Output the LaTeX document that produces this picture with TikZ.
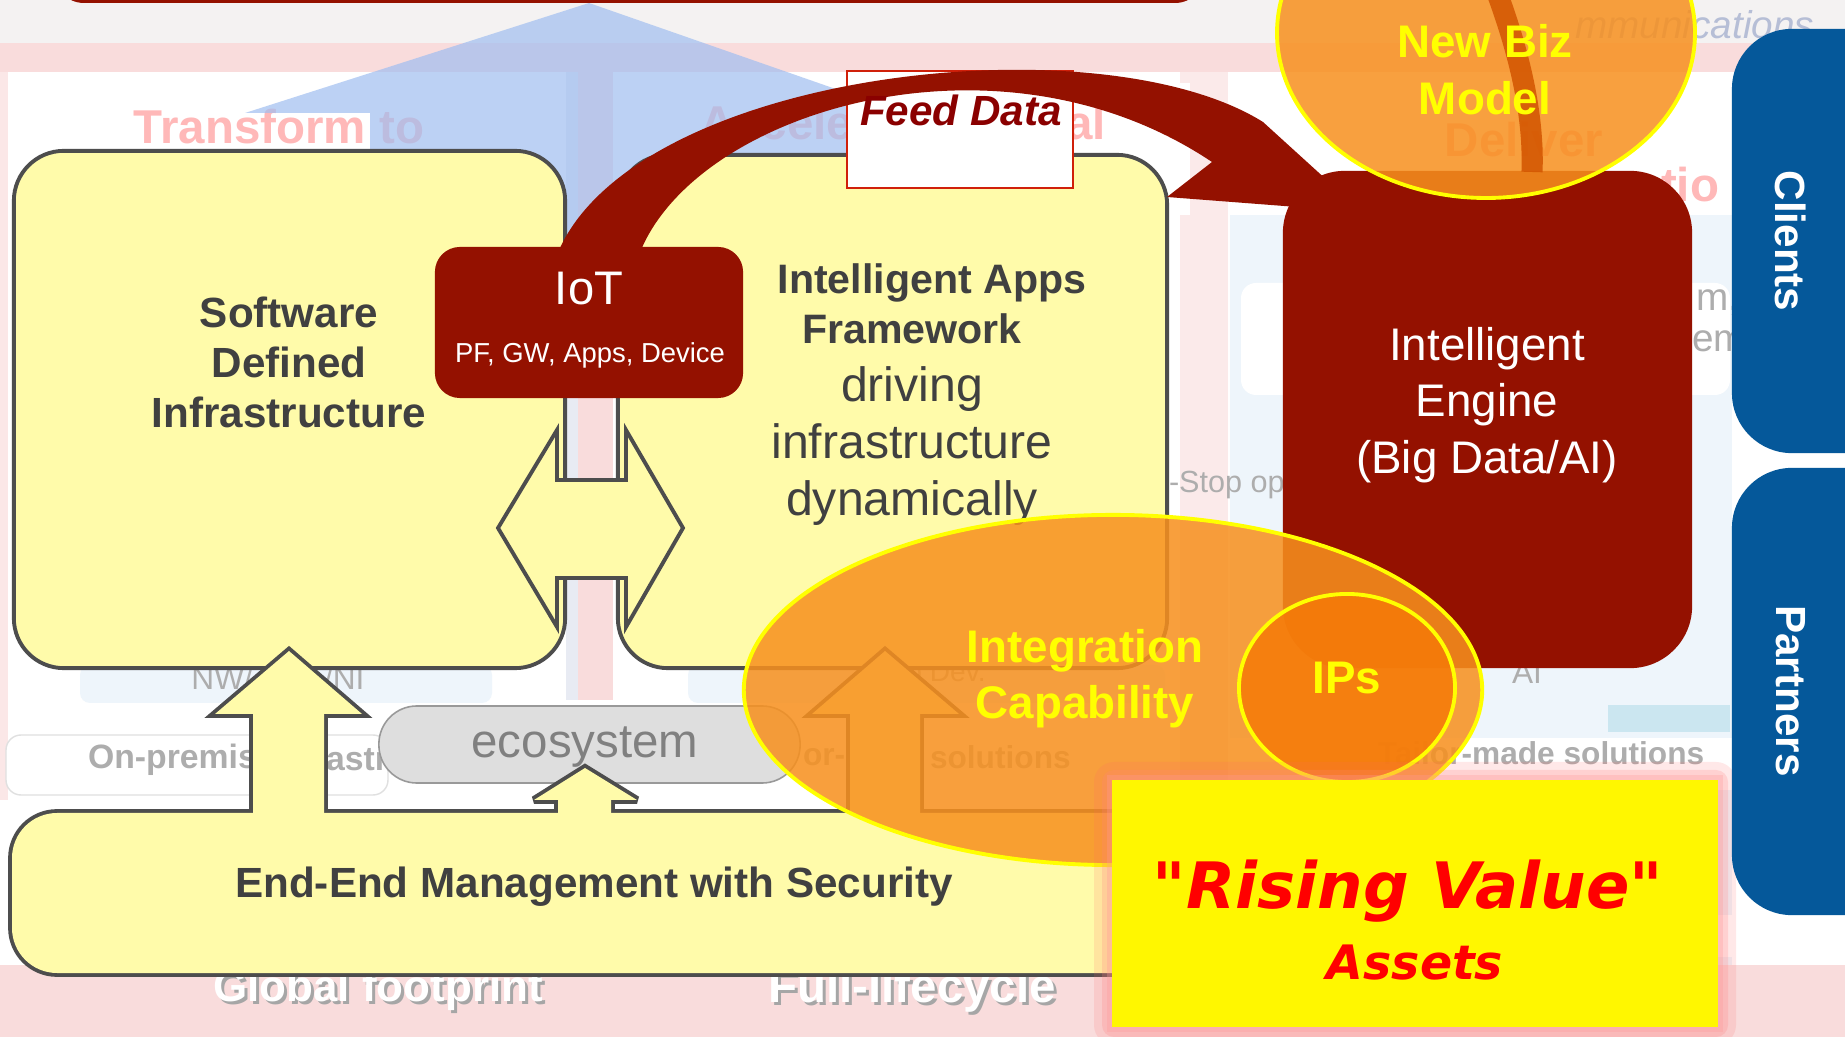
\documentclass[tikz,border=0pt]{standalone}
\usepackage{fontspec}
\setmainfont{Liberation Sans}
\newfontfamily\djv{DejaVu Sans}
\usetikzlibrary{shapes.geometric}
\definecolor{ylw}{HTML}{FFFBAA}
\definecolor{edge}{HTML}{4D4D4D}
\definecolor{txt}{HTML}{404040}
\definecolor{dred}{HTML}{941100}
\definecolor{fdred}{HTML}{8A0000}
\definecolor{orng}{HTML}{F7901E}
\definecolor{orng2}{HTML}{F57A08}
\definecolor{yel}{HTML}{FFFF00}
\definecolor{rvy}{HTML}{FFF700}
\definecolor{rvr}{HTML}{FF0000}
\definecolor{pblue}{HTML}{05589A}
\definecolor{bgpink}{HTML}{F9DCDC}
\definecolor{topgray}{HTML}{F4F2F2}
\definecolor{paleblue}{HTML}{EEF5FB}
\definecolor{lightbar}{HTML}{CBE6F0}
\definecolor{fadepink}{HTML}{FFB8B8}
\definecolor{fadegray}{HTML}{ADADAD}
\definecolor{ecofill}{HTML}{DEDEDE}
\definecolor{ecotxt}{HTML}{808080}
\definecolor{blueov}{HTML}{A0BEF0}
\definecolor{fadeblue}{HTML}{B6BED6}
\definecolor{darkor}{HTML}{D25400}
\definecolor{feedline}{HTML}{D0200A}
\definecolor{gapgray}{HTML}{E8EBF3}
\newcommand{\fsz}[2]{\fontsize{#1}{#2}\selectfont}
\tikzset{
  ybox/.style={draw=edge, line width=1.1pt, fill=ylw, rounded corners=0.5cm},
  rbox/.style={fill=dred},
  fadetxt/.style={text=fadegray, font=\fsz{9pt}{11pt}\bfseries},
  pinktxt/.style={text=fadepink, font=\fsz{13.5pt}{16pt}\bfseries},
  ywtxt/.style={text=yel, font=\fsz{13pt}{16pt}\bfseries, align=center},
  pill/.style={fill=pblue, rounded corners=0.6cm},
  pilltxt/.style={text=white, font=\fsz{12pt}{14pt}\bfseries, rotate=-90},
  oval/.style={ellipse, draw=yel, line width=1.1pt},
  arrowline/.style={draw=edge, line width=2.2pt, line join=miter, miter limit=3},
}
\begin{document}
\begin{tikzpicture}[x=0.01cm,y=-0.01cm,every node/.append style={inner sep=0pt,outer sep=0pt}]
\useasboundingbox (0,0) rectangle (1845,1037);
\clip (0,0) rectangle (1845,1037);
% ---------- background ----------
\fill[white] (0,0) rectangle (1845,1037);
\fill[topgray] (0,0) rectangle (1845,43);
\fill[dred,rounded corners=0.3cm] (54,-60) rectangle (1205,3);
\fill[bgpink] (0,43) rectangle (1845,72);
\fill[bgpink] (0,965) rectangle (1845,1037);
\fill[bgpink!70] (0,72) rectangle (8,800);
\fill[gapgray] (566,72) rectangle (578,700);
\fill[bgpink] (578,72) rectangle (613,700);
\fill[bgpink!60] (1180,72) rectangle (1228,965);
\fill[paleblue] (1230,215) rectangle (1732,965);
\fill[white] (1240,88) rectangle (1730,215);
\fill[white,rounded corners=0.15cm] (1241,283) rectangle (1730,395);
\fill[lightbar] (1608,705) rectangle (1730,732);
\fill[white] (1230,738) rectangle (1732,790);
\fill[white] (1718,915) rectangle (1830,957);
\fill[paleblue,rounded corners=0.1cm] (80,665) rectangle (492,703);
\fill[paleblue,rounded corners=0.1cm] (688,665) rectangle (1165,703);
\draw[black!12,fill=white,rounded corners=0.15cm] (6,735) rectangle (388,795);
\fill[white] (9,88) rectangle (370,160);
\fill[white] (850,83) rectangle (1190,215);
% faded background texts
\node[pinktxt] (trT) at (279,127) {Transform to};
\node[pinktxt,anchor=west] (accA) at (700,123) {Accele};
\node[pinktxt,anchor=east] (accB) at (1106,123) {al};
\node[pinktxt] (delT) at (1524,140) {Deliver};
\node[pinktxt,anchor=west] (tioT) at (1661,185) {tio};
\node[text=fadeblue,font=\fsz{11pt}{13pt}\itshape,anchor=east] (comT) at (1814,25) {mmunications};
\node[text=fadegray,font=\fsz{8.7pt}{10pt},anchor=west] (stopT) at (1169,485) {-Stop op};
\node[text=fadegray,font=\fsz{11pt}{13pt},anchor=west] (mT) at (1696,303) {m,};
\node[text=fadegray,font=\fsz{11pt}{13pt},anchor=west] (emT) at (1692,341) {em};
\node[text=fadegray,font=\fsz{9pt}{11pt},anchor=east] (nwA) at (253,678) {NW/};
\node[text=fadegray,font=\fsz{9pt}{11pt},anchor=west] (nwB) at (324,678) {/NI};
\node[text=fadegray,font=\fsz{8pt}{10pt},anchor=west] (appT) at (872,675) {App Dev.};
\node[text=fadegray,font=\fsz{9pt}{11pt}] (aiT) at (1527,673) {AI};
\node[fadetxt,anchor=west,font=\fsz{9.6pt}{12pt}\bfseries] (onpA) at (88,760) {On-premis};
\node[fadetxt,anchor=west,font=\fsz{9.6pt}{12pt}\bfseries] (onpB) at (326,760) {astr};
\node[fadetxt,anchor=west] (orT) at (803,757) {or-m};
\node[fadetxt,anchor=west] (solT) at (930,757) {solutions};
\node[fadetxt] (tailT) at (1541,753) {Tailor-made solutions};
\node[text=black!35,font=\fsz{12.5pt}{15pt}\bfseries] (globS) at (381,993) {Global footprint};
\node[text=white,font=\fsz{12.5pt}{15pt}\bfseries] (globT) at (378,990) {Global footprint};
\node[text=black!35,font=\fsz{13.5pt}{16pt}\bfseries] (fullS) at (915,993) {Full-lifecycle};
\node[text=white,font=\fsz{13.5pt}{16pt}\bfseries] (fullT) at (912,990) {Full-lifecycle};
% blue overlay
\fill[blueov,opacity=0.7] (589,3) -- (245,113) -- (370,113) -- (370,250) -- (850,250) -- (850,94) -- cycle;
% ---------- main yellow boxes ----------
\node[ybox, minimum width=5.51cm, minimum height=5.17cm] (sdi) at (289.5,409.5) {};
\node[ybox, minimum width=5.49cm, minimum height=5.13cm] (iaf) at (892.5,411.5) {};
\node[draw=feedline, line width=0.6pt, fill=white, minimum width=2.26cm, minimum height=1.17cm] (feed) at (960,129.5) {};
\node[text=txt, font=\fsz{12pt}{14.2pt}\bfseries, align=center] (sdiT) at (289,362) {Software\\Defined\\Infrastructure};
\node[text=txt, font=\fsz{11.7pt}{14.2pt}\bfseries] (iafA) at (932,283) {Intelligent Apps};
\node[text=txt, font=\fsz{11.7pt}{14.2pt}\bfseries] (iafB) at (912,329) {Framework};
\node[text=txt, font=\fsz{13.7pt}{16.2pt}, align=center] (iafC) at (912,446) {driving\\infrastructure\\dynamically};
% double arrow between the boxes
\draw[draw=edge, line width=1.1pt, fill=ylw, line join=miter] (498,528) -- (557,430) -- (557,480) -- (626,480) -- (626,430) -- (683,528) -- (626,627) -- (626,578) -- (557,578) -- (557,627) -- cycle;
% ---------- Feed Data curved arrow ----------
\fill[dred] (559,250) .. controls (640,70) and (1100,20) .. (1263,122) -- (1362,212) -- (1167,197) -- (1212,162) .. controls (1000,20) and (700,110) .. (641,250) -- cycle;
\node[rbox, rounded corners=0.25cm, minimum width=3.08cm, minimum height=1.51cm] (iot) at (589,322.5) {};
\node[text=white, font=\fsz{13.4pt}{16pt}] (iotT) at (589,289) {IoT};
\node[text=white, font=\fsz{7.8pt}{9pt}] (iotS) at (590,355) {PF, GW, Apps, Device};
% ecosystem pill
\node[draw=black!40, line width=0.45pt, fill=ecofill, rounded corners=0.38cm, minimum width=4.21cm, minimum height=0.77cm] (eco) at (589.5,744.5) {};
\node[text=ecotxt, font=\fsz{13.5pt}{16pt}] (ecoT) at (585,747) {ecosystem};
% ---------- bottom box with the three up arrows (union outline) ----------
\draw[arrowline, rounded corners=0.45cm] (12,813) rectangle (1250,973);
\draw[arrowline] (253,830) -- (253,714) -- (215,714) -- (289,651) -- (362,714) -- (324,714) -- (324,830) -- cycle;
\draw[arrowline] (558,830) -- (558,800) -- (534,800) -- (585,768) -- (637,800) -- (611,800) -- (611,830) -- cycle;
\draw[arrowline] (850,830) -- (850,714) -- (812,714) -- (885,651) -- (959,714) -- (920,714) -- (920,830) -- cycle;
\fill[ylw, rounded corners=0.45cm] (12,813) rectangle (1250,973);
\fill[ylw] (253,830) -- (253,714) -- (215,714) -- (289,651) -- (362,714) -- (324,714) -- (324,830) -- cycle;
\fill[ylw] (558,830) -- (558,800) -- (534,800) -- (585,768) -- (637,800) -- (611,800) -- (611,830) -- cycle;
\fill[ylw] (850,830) -- (850,714) -- (812,714) -- (885,651) -- (959,714) -- (920,714) -- (920,830) -- cycle;
\node[text=txt, font=\fsz{12pt}{14pt}\bfseries] (eeT) at (594,887) {End-End Management with Security};
% ---------- Intelligent engine ----------
\node[rbox, rounded corners=0.62cm, minimum width=4.09cm, minimum height=4.97cm] (eng) at (1487.5,419.5) {};
\node[text=white, font=\fsz{13pt}{16.1pt}, align=center] (engT) at (1487,405) {Intelligent\\Engine\\(Big Data/AI)};
% ---------- Integration ellipse and IPs ----------
\node[oval, fill=orng, fill opacity=0.86, minimum width=7.38cm, minimum height=3.5cm] (integ) at (1113,690) {};
\node[oval, fill=orng2, fill opacity=0.85, minimum width=2.16cm, minimum height=1.88cm] (ips) at (1347,688) {};
\node[ywtxt] (integT) at (1085,679) {Integration\\Capability};
\node[ywtxt] (ipsT) at (1347,678) {IPs};
% ---------- New Biz Model circle ----------
\node[ellipse, fill=orng, fill opacity=0.85, minimum width=4.18cm, minimum height=3.3cm] (biz) at (1486,33) {};
\begin{scope}
\clip (1486,33) ellipse [x radius=209, y radius=165];
\draw[darkor, line width=6pt, opacity=0.85] (1496,-10) .. controls (1522,60) and (1534,120) .. (1532,172);
\end{scope}
\draw[yel, line width=1.1pt] (1486,33) ellipse [x radius=209, y radius=165];
\node[ywtxt] (bizA) at (1485,41) {New Biz};
\node[ywtxt] (bizB) at (1485,98) {Model};
% Feed Data label
\node[text=fdred, font=\fsz{12pt}{14pt}\bfseries\itshape] (feedT) at (961,110) {Feed Data};
% ---------- Rising Value box ----------
\fill[red!60, opacity=0.15, rounded corners=0.2cm] (1094,762) rectangle (1736,1045);
\fill[red!50, opacity=0.22, rounded corners=0.12cm] (1102,770) rectangle (1728,1037);
\fill[red!40, opacity=0.3] (1107,775) rectangle (1723,1032);
\node[fill=rvy, minimum width=6.06cm, minimum height=2.47cm] (rise) at (1415,903.5) {};
\node[text=rvr, font=\djv\fsz{18.2pt}{22pt}\bfseries\itshape] (riseT) at (1408,891) {"Rising Value"};
\node[text=rvr, font=\djv\fsz{13.5pt}{16pt}\bfseries\itshape] (assT) at (1415,963) {Assets};
% ---------- Clients / Partners ----------
\node[pill, minimum width=2.28cm, minimum height=4.24cm] (cli) at (1846,241) {};
\node[pilltxt] (cliT) at (1791,241) {Clients};
\node[pill, minimum width=2.28cm, minimum height=4.47cm] (par) at (1846,691.5) {};
\node[pilltxt] (parT) at (1791,691) {Partners};
\end{tikzpicture}
\end{document}
